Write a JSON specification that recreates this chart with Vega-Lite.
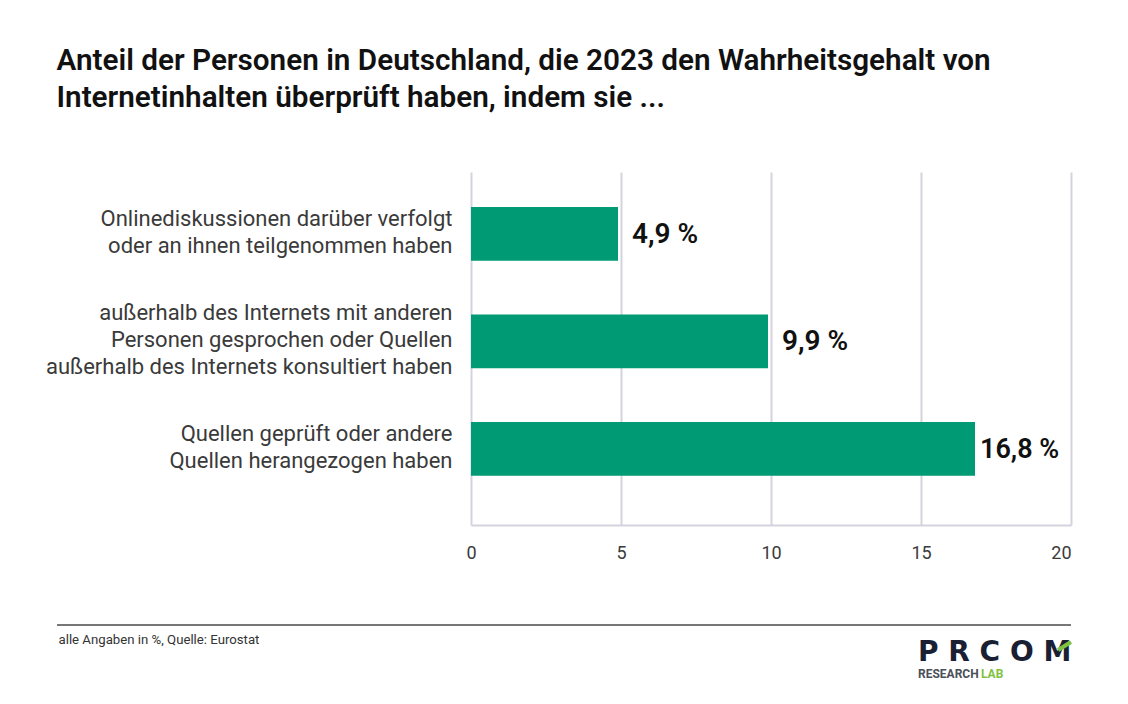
{
"$schema":"https://vega.github.io/schema/vega-lite/v6.json",
"width":600,"height":353,
"autosize":"none",
"padding":{"left":471,"top":172,"right":57,"bottom":179},
"background":"white",
"config":{"view":{"stroke":null},"font":"Roboto"},
"title":{"text":["Anteil der Personen in Deutschland, die 2023 den Wahrheitsgehalt von","Internetinhalten überprüft haben, indem sie ..."],"anchor":"start","align":"left","dx":11,"offset":58,"fontSize":29.7,"fontWeight":600,"lineHeight":37,"color":"#111111","font":"Roboto"},
"data":{"values":[
{"kategorie":"Onlinediskussionen darüber verfolgt|oder an ihnen teilgenommen haben","anteil":4.9,"label":"4,9 %"},
{"kategorie":"außerhalb des Internets mit anderen|Personen gesprochen oder Quellen|außerhalb des Internets konsultiert haben","anteil":9.9,"label":"9,9 %"},
{"kategorie":"Quellen geprüft oder andere|Quellen herangezogen haben","anteil":16.8,"label":"16,8 %"}
]},
"encoding":{
"y":{"field":"kategorie","type":"nominal","sort":null,"title":null,
"scale":{"paddingInner":0.5,"paddingOuter":0.392,"align":0.415},
"axis":{"labelExpr":"split(datum.label,'|')","labelFontSize":22,"labelFont":"Roboto","labelColor":"#3a3a3a","labelLineHeight":27,"labelLimit":460,"labelPadding":19,"labelOffset":{"expr":"-(length(split(datum.label,'|'))-1)*13.5-1"},"ticks":false,"domain":false,"grid":false}},
"x":{"field":"anteil","type":"quantitative","scale":{"domain":[0,20],"nice":false},
"axis":{"values":[0,5,10,15,20],"title":"alle Angaben in %, Quelle: Eurostat","titleX":-413,"titleY":108,"titleAlign":"left","titleAnchor":"start","titleFontSize":13.2,"titleFontWeight":400,"titleColor":"#333333","titleFont":"Roboto","labelFontSize":18,"labelColor":"#3a3a3a","labelPadding":19,"labelAlign":{"expr":"datum.value==20?'right':'center'"},"ticks":false,"domainColor":"#d3d3de","domainWidth":2,"grid":true,"gridColor":"#d3d3de","gridWidth":2}}
},
"layer":[
{"mark":{"type":"bar","color":"#009a75"}},
{"transform":[{"filter":"datum.anteil<15"}],"mark":{"type":"text","align":"left","dx":14,"dy":1,"fontSize":28,"fontWeight":600,"color":"#111111","font":"Roboto"},"encoding":{"text":{"field":"label"}}},
{"transform":[{"filter":"datum.anteil>15"}],"mark":{"type":"text","align":"left","dx":5,"dy":1,"fontSize":27,"fontWeight":600,"color":"#111111","font":"Roboto"},"encoding":{"text":{"field":"label"}}},
{"data":{"values":[{"von":-13.8,"bis":20}]},"mark":{"type":"rule","color":"#777777","strokeWidth":2},"encoding":{"x":{"field":"von","type":"quantitative"},"x2":{"field":"bis"},"y":{"value":453}}},
{"data":{"values":[{"logo":"P R C O M","pos":14.9}]},"mark":{"type":"text","align":"left","baseline":"middle","fontSize":28,"fontWeight":600,"color":"#1a1f33","font":"DejaVu Sans"},"encoding":{"x":{"field":"pos","type":"quantitative"},"y":{"value":481},"text":{"field":"logo"}}},
{"data":{"values":[{"von":19.57,"bis":20}]},"mark":{"type":"rule","color":"#7fc241","strokeWidth":4},"encoding":{"x":{"field":"von","type":"quantitative"},"x2":{"field":"bis"},"y":{"value":478},"y2":{"value":470}}},
{"data":{"values":[{"a":"RESEARCH","pos":14.9}]},"mark":{"type":"text","align":"left","baseline":"middle","fontSize":12,"fontWeight":700,"color":"#4a5058","font":"Roboto"},"encoding":{"x":{"field":"pos","type":"quantitative"},"y":{"value":502},"text":{"field":"a"}}},
{"data":{"values":[{"a":"LAB","pos":17.0}]},"mark":{"type":"text","align":"left","baseline":"middle","fontSize":12,"fontWeight":700,"color":"#7fc241","font":"Roboto"},"encoding":{"x":{"field":"pos","type":"quantitative"},"y":{"value":502},"text":{"field":"a"}}}
]
}
